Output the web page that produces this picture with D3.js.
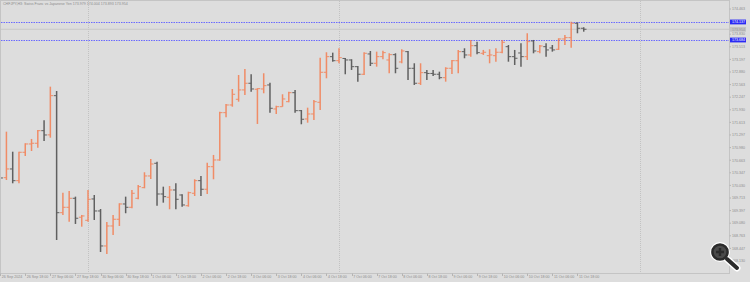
<!DOCTYPE html>
<html>
<head>
<meta charset="utf-8">
<script src="https://cdnjs.cloudflare.com/ajax/libs/d3/7.8.5/d3.min.js"></script>
<style>
  body{margin:0;background:#dddddd;}
  svg{display:block;}
</style>
</head>
<body>
<div id="Canvas"></div>
<script>
// CHFJPY H3 bars, index 0 = 26 Sep 06:00
const opens = [170.418,170.224,170.443,170.149,170.862,171.071,171.089,171.405,171.30,172.285,
  169.344,169.480,169.706,169.23,169.153,169.689,169.387,168.508,169.010,169.179,
  169.563,169.480,169.706,169.973,170.267,170.586,169.814,169.732,169.915,169.789,
  169.520,169.832,170.149,169.933,170.500,170.669,171.858,172.051,172.194,172.429,
  172.597,172.446,172.453,172.554,171.951,172.008,172.134,172.360,171.908,171.699,
  171.825,172.119,172.873,173.265,173.164,173.220,173.182,173.014,172.823,173.333,
  173.099,173.265,173.182,173.315,173.132,173.391,172.973,172.597,172.863,172.843,
  172.823,172.737,172.973,173.164,173.391,173.308,173.541,173.350,173.290,173.290,
  173.376,173.516,173.265,173.358,173.265,173.660,173.391,173.516,173.484,173.451,
  173.710,173.743,174.104,173.979]
const highs = [170.543,171.380,170.877,170.877,171.089,171.197,171.423,171.667,172.511,172.403,
  169.847,169.890,169.747,169.287,169.915,169.789,169.437,169.111,169.287,169.581,
  169.747,169.915,170.041,170.360,170.694,170.626,169.998,170.015,170.083,169.807,
  169.872,170.184,170.267,170.601,170.795,171.883,172.076,172.453,172.805,172.956,
  172.823,172.471,172.848,172.612,172.034,172.320,172.385,172.429,171.925,171.983,
  172.177,173.240,173.376,173.366,173.476,173.232,173.200,173.031,173.376,173.408,
  173.391,173.416,173.350,173.350,173.451,173.408,173.099,173.099,172.931,172.931,
  172.888,172.999,173.182,173.434,173.476,173.685,173.642,173.434,173.451,173.476,
  173.685,173.559,173.434,173.602,173.853,173.685,173.559,173.602,173.559,173.727,
  173.810,174.145,174.125,174.004]
const lows = [170.166,170.166,170.083,170.083,170.769,170.895,170.978,171.146,171.229,168.658,
  169.287,169.118,169.061,168.993,169.118,169.161,168.357,168.306,168.784,169.010,
  169.330,169.455,169.681,169.958,170.191,169.520,169.596,169.430,169.430,169.495,
  169.495,169.764,169.764,169.814,170.184,170.651,171.742,172.008,172.134,172.302,
  172.385,171.574,172.345,171.858,171.825,172.008,172.119,171.858,171.566,171.606,
  171.674,171.925,172.722,173.139,173.099,172.823,172.931,172.637,172.806,173.031,
  173.014,173.200,172.848,172.848,173.099,172.679,172.554,172.554,172.679,172.780,
  172.697,172.637,172.830,172.848,173.225,173.265,173.325,173.308,173.099,173.139,
  173.350,173.139,173.056,173.014,173.182,173.350,173.350,173.265,173.391,173.434,
  173.559,173.491,173.853,173.893]
const closes = [170.217,170.443,170.149,170.862,171.071,171.089,171.405,171.297,172.285,169.344,
  169.480,169.706,169.204,169.262,169.681,169.387,168.508,169.010,169.179,169.563,
  169.480,169.832,169.998,170.267,170.568,169.814,169.747,169.915,169.681,169.538,
  169.847,170.149,169.933,170.500,170.669,171.858,172.051,172.320,172.429,172.597,
  172.453,172.461,172.536,171.968,172.008,172.202,172.360,171.908,171.692,171.825,
  172.134,172.873,173.265,173.164,173.240,173.182,173.014,172.823,173.350,173.099,
  173.265,173.366,173.315,172.973,173.408,172.973,172.597,172.863,172.843,172.823,
  172.737,172.973,173.164,173.391,173.308,173.541,173.366,173.376,173.308,173.376,
  173.627,173.265,173.225,173.265,173.642,173.408,173.534,173.434,173.434,173.710,
  173.743,174.104,173.979,173.954]

// axis labels
const priceTicks = [168.130,168.447,168.763,169.080,169.397,169.713,170.030,170.347,170.663,170.980,
  171.297,171.613,171.930,172.247,172.563,172.880,173.197,173.513,173.830,174.147,174.463]
const timeLabels = ["26 Sep 2024","26 Sep 18:00","27 Sep 06:00","27 Sep 18:00","30 Sep 06:00","30 Sep 18:00",
  "1 Oct 06:00","1 Oct 18:00","2 Oct 06:00","2 Oct 18:00","3 Oct 06:00","3 Oct 18:00",
  "4 Oct 06:00","4 Oct 18:00","7 Oct 06:00","7 Oct 18:00","8 Oct 06:00","8 Oct 18:00",
  "9 Oct 06:00","9 Oct 18:00","10 Oct 06:00","10 Oct 18:00","11 Oct 06:00","11 Oct 18:00"]
const timeLabelBars = timeLabels.map((d,i)=>i*4)
const weekSeparators = [14, 54, 102]
const hLines = [174.137, 173.684]
const bidPrice = 173.954
const title = "CHFJPY,H3: Swiss Franc vs Japanese Yen 173.979 174.004 173.893 173.954"

let W = 750, H = 282
let plotRight = 729, plotBottom = 273
let fs = 3.6

let svg = d3.select("#Canvas")
  .append("svg")
  .attr("width", W)
  .attr("height", H)
  .style("font-family", "'Liberation Sans', Arial, sans-serif")

svg.append("rect").attr("width", W).attr("height", H).attr("fill", "#dddddd")

let xScale = d3.scaleLinear()
  .domain([0, 116])
  .range([0.15, 0.15 + 116 * 6.275])
let yScale = d3.scaleLinear()
  .domain([168.130, 174.463])
  .range([261, 9])

let bars = opens.map((o,i)=>({i:i, o:o, h:highs[i], l:lows[i], c:closes[i]}))

svg.append("clipPath").attr("id","clip")
  .append("rect").attr("x",1).attr("y",1).attr("width",plotRight-1).attr("height",plotBottom-1)
let plot = svg.append("g").attr("clip-path","url(#clip)")

// week separators
plot.selectAll(".sep")
  .data(weekSeparators)
  .enter()
  .append("line")
  .attr("x1", d=>Math.round(xScale(d))+0.5)
  .attr("x2", d=>Math.round(xScale(d))+0.5)
  .attr("y1", 1).attr("y2", plotBottom)
  .attr("stroke", "#c2c2c2")
  .attr("stroke-dasharray", "1,1")

// bid line
plot.append("line")
  .attr("x1", 1).attr("x2", plotRight)
  .attr("y1", yScale(bidPrice)).attr("y2", yScale(bidPrice))
  .attr("stroke", "#c8c8c8").attr("stroke-width", 1)

// horizontal levels
plot.selectAll(".hl")
  .data(hLines)
  .enter()
  .append("line")
  .attr("x1", 1).attr("x2", plotRight)
  .attr("y1", d=>Math.round(yScale(d))+0.5).attr("y2", d=>Math.round(yScale(d))+0.5)
  .attr("stroke", "#6a6aff")
  .attr("stroke-dasharray", "1.5,1")

// OHLC bars
let colorOf = d => d.c >= d.o ? "#f47e52" : "#4b4b4b"
let g = plot.selectAll(".bar")
  .data(bars)
  .enter()
  .append("g")
  .attr("opacity", 0.85)
g.append("line")
  .attr("x1", d=>xScale(d.i)).attr("x2", d=>xScale(d.i))
  .attr("y1", d=>yScale(d.h)).attr("y2", d=>yScale(d.l))
  .attr("stroke", colorOf).attr("stroke-width", 1.5)
g.append("line")
  .attr("x1", d=>xScale(d.i)-2.8).attr("x2", d=>xScale(d.i))
  .attr("y1", d=>yScale(d.o)).attr("y2", d=>yScale(d.o))
  .attr("stroke", colorOf).attr("stroke-width", 1)
g.append("line")
  .attr("x1", d=>xScale(d.i)).attr("x2", d=>xScale(d.i)+2.8)
  .attr("y1", d=>yScale(d.c)).attr("y2", d=>yScale(d.c))
  .attr("stroke", colorOf).attr("stroke-width", 1)

// frame
svg.append("rect")
  .attr("x", 0.5).attr("y", 0.5)
  .attr("width", plotRight).attr("height", plotBottom)
  .attr("fill", "none").attr("stroke", "#c4c4c4")

// right price axis
let yAxis = svg.append("g")
yAxis.selectAll("text")
  .data(priceTicks)
  .enter()
  .append("text")
  .attr("x", 732)
  .attr("y", d=>yScale(d)+1.3)
  .attr("font-size", fs)
  .attr("fill", "#8c8c8c")
  .text(d=>d.toFixed(3))
yAxis.selectAll("line")
  .data(priceTicks)
  .enter()
  .append("line")
  .attr("x1", plotRight+0.5).attr("x2", plotRight+2)
  .attr("y1", d=>yScale(d)).attr("y2", d=>yScale(d))
  .attr("stroke", "#b4b4b4")

// price boxes
let boxes = [{p:bidPrice, fill:"#c4c4c4", col:"#9a9a9a"}].concat(hLines.map(p=>({p:p, fill:"#2a2af5", col:"#ffffff"})))
let bg = svg.selectAll(".pbox")
  .data(boxes)
  .enter()
  .append("g")
bg.append("rect")
  .attr("x", plotRight+1).attr("y", d=>yScale(d.p)-2.4)
  .attr("width", 16).attr("height", 4.8)
  .attr("fill", d=>d.fill)
bg.append("text")
  .attr("x", 732).attr("y", d=>yScale(d.p)+1.3)
  .attr("font-size", fs)
  .attr("fill", d=>d.col)
  .text(d=>d.p.toFixed(3))

// bottom time axis
let xAxis = svg.append("g")
xAxis.selectAll("line")
  .data(timeLabelBars)
  .enter()
  .append("line")
  .attr("x1", d=>Math.round(xScale(d))+0.5).attr("x2", d=>Math.round(xScale(d))+0.5)
  .attr("y1", plotBottom+0.5).attr("y2", plotBottom+3)
  .attr("stroke", "#b4b4b4")
xAxis.selectAll("text")
  .data(timeLabelBars)
  .enter()
  .append("text")
  .attr("x", d=>xScale(d)+1.6)
  .attr("y", plotBottom+5)
  .attr("font-size", fs)
  .attr("fill", "#8c8c8c")
  .text((d,i)=>timeLabels[i])

// title
svg.append("text")
  .attr("x", 3).attr("y", 5.2)
  .attr("font-size", fs)
  .attr("fill", "#8c8c8c")
  .text(title)

// magnifier overlay icon
let mg = svg.append("g")
mg.append("line").attr("x1",727).attr("y1",259).attr("x2",737).attr("y2",268)
  .attr("stroke","#ffffff").attr("stroke-width",7).attr("stroke-linecap","round")
mg.append("circle").attr("cx",720).attr("cy",252).attr("r",10)
  .attr("fill","#ffffff")
mg.append("line").attr("x1",727).attr("y1",259).attr("x2",737).attr("y2",268)
  .attr("stroke","#2b2b2b").attr("stroke-width",4).attr("stroke-linecap","round")
mg.append("circle").attr("cx",720).attr("cy",252).attr("r",7.6)
  .attr("fill","#4a4a4a").attr("stroke","#2b2b2b").attr("stroke-width",2.5)
mg.append("path").attr("d","M716,252H724M720,248V256")
  .attr("stroke","#2b2b2b").attr("stroke-width",2.4)
</script>
</body>
</html>
